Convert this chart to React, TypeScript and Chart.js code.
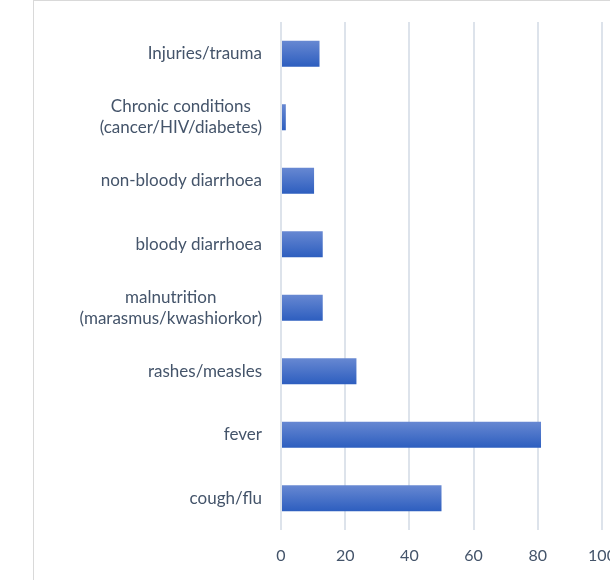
import React, { useEffect, useRef } from "react";
import { Chart, registerables } from "chart.js";

Chart.register(...registerables);

const categories: (string | string[])[] = [
  "Injuries/trauma",
  ["Chronic conditions", "(cancer/HIV/diabetes)"],
  "non-bloody diarrhoea",
  "bloody diarrhoea",
  ["malnutrition", "(marasmus/kwashiorkor)"],
  "rashes/measles",
  "fever",
  "cough/flu",
];

const values: number[] = [12, 1.5, 10.3, 13, 13, 23.5, 81, 50];

const xTicks: number[] = [0, 20, 40, 60, 80, 100];

const TEXT = "#44546a";
const GRID = "#dde3eb";
const FONT = "Lato, 'Noto Sans', sans-serif";
const LABEL_SIZE = 17;
const LABEL_LINE = 21;
const LABEL_GAP = 19;
const BAR_PCT = 0.5;
const CAT_PCT = 0.82;

// Vertical gradient for each bar, light on top and dark at the bottom
function barFill(ctx: any) {
  const chart = ctx.chart;
  const y = chart.scales?.y;
  if (!y || ctx.dataIndex === undefined) return "#4a72c9";
  const center = y.getPixelForValue(ctx.dataIndex);
  const band = y.height / categories.length;
  const half = (band * CAT_PCT * BAR_PCT) / 2;
  if (!isFinite(center) || !isFinite(half) || half <= 0) return "#4a72c9";
  const g = chart.ctx.createLinearGradient(0, center - half, 0, center + half);
  g.addColorStop(0, "#6788d2");
  g.addColorStop(1, "#2d5ebf");
  return g;
}

// Light frame around the chart
const framePlugin = {
  id: "frame",
  beforeDraw(chart: any) {
    const c = chart.ctx;
    c.save();
    c.strokeStyle = "#d9d9d9";
    c.lineWidth = 1;
    c.strokeRect(33.5, 0.5, chart.width + 20, chart.height + 20);
    c.restore();
  },
};

// Category labels: block right-aligned to the axis, lines centred within the block
const categoryLabelPlugin = {
  id: "categoryLabels",
  afterDraw(chart: any) {
    const y = chart.scales.y;
    const c = chart.ctx;
    c.save();
    c.font = `${LABEL_SIZE}px ${FONT}`;
    c.fillStyle = TEXT;
    c.textAlign = "center";
    c.textBaseline = "middle";
    const right = y.right - LABEL_GAP;
    categories.forEach((label, i) => {
      const lines = Array.isArray(label) ? label : [label];
      const w = Math.max(...lines.map((l) => c.measureText(l).width));
      const cx = right - w / 2;
      const cy = y.getPixelForTick(i);
      const top = cy - ((lines.length - 1) * LABEL_LINE) / 2;
      lines.forEach((l, k) => c.fillText(l, cx, top + k * LABEL_LINE));
    });
    c.restore();
  },
};

export default function App() {
  const ref = useRef<HTMLCanvasElement>(null);

  useEffect(() => {
    if (!ref.current) return;
    const chart = new Chart(ref.current, {
      type: "bar",
      data: {
        labels: categories,
        datasets: [
          {
            data: values,
            backgroundColor: barFill,
            borderWidth: 0,
            barPercentage: BAR_PCT,
            categoryPercentage: CAT_PCT,
          },
        ],
      },
      options: {
        indexAxis: "y",
        animation: false,
        responsive: false,
        maintainAspectRatio: false,
        layout: { padding: { left: 40, top: 22, right: 30, bottom: 0 } },
        plugins: { legend: { display: false }, tooltip: { enabled: false } },
        scales: {
          x: {
            min: 0,
            max: 100,
            afterBuildTicks: (s: any) => {
              s.ticks = xTicks.map((v) => ({ value: v }));
            },
            afterFit: (s: any) => {
              s.height = 50;
              s.paddingLeft = 0;
              s.paddingRight = 0;
            },
            grid: { color: GRID, lineWidth: 2, drawTicks: false },
            border: { display: false },
            ticks: {
              color: TEXT,
              padding: 16,
              font: { family: FONT, size: 16 },
            },
          },
          y: {
            afterFit: (s: any) => {
              s.width = 241;
              s.paddingTop = 0;
              s.paddingBottom = 0;
            },
            grid: { display: false, drawTicks: false },
            border: { display: false },
            ticks: { display: false },
          },
        },
      },
      plugins: [framePlugin, categoryLabelPlugin],
    });
    return () => chart.destroy();
  }, []);

  return (
    <div
      style={{
        position: "fixed",
        left: 0,
        top: 0,
        width: 610,
        height: 580,
        overflow: "hidden",
        background: "#fff",
      }}
    >
      <canvas ref={ref} width={632} height={580} style={{ width: 632, height: 580 }} />
    </div>
  );
}
